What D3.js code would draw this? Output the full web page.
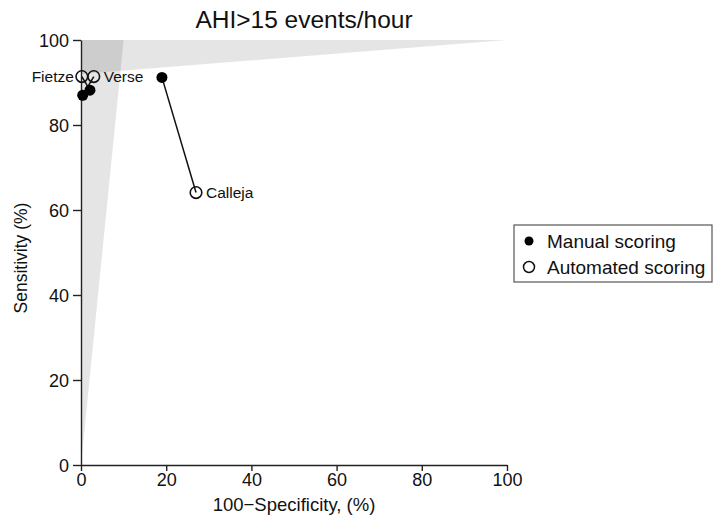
<!DOCTYPE html>
<html><head><meta charset="utf-8">
<script src="https://cdn.jsdelivr.net/npm/d3@7"></script>
<style>body{margin:0;background:#fff}svg text{font-family:"Liberation Sans",Arial,Helvetica,sans-serif}</style>
</head><body><svg id="c" width="715" height="521"></svg>
<script>
const studies = ["Fietze", "Verse", "Calleja"];
const manualFPR = [2.1, 0.4, 19];
const manualSens = [88.2, 87, 91.2];
const autoFPR = [0.2, 3.0, 27];
const autoSens = [91.4, 91.4, 64.1];
const regionA = [[0,0],[10,100],[0,100]];
const regionB = [[0,92],[100,100],[0,100]];
const xTicks = [0,20,40,60,80,100];
const yTicks = [0,20,40,60,80,100];
const legendLabels = ["Manual scoring","Automated scoring"];

const svg = d3.select("#c");
const x = d3.scaleLinear().domain([0,100]).range([81,507]);
const y = d3.scaleLinear().domain([0,100]).range([465,40]);

const poly = d3.line().x(d=>x(d[0])).y(d=>y(d[1]));
[regionA, regionB].forEach(r=>{
  svg.append("path").attr("d", poly(r)+"Z").attr("fill","#000").attr("fill-opacity",0.1);
});

// axes
const xAxis = svg.append("g").attr("transform","translate(0,465)")
  .call(d3.axisBottom(x).tickValues(xTicks).tickSize(6).tickSizeOuter(0).tickPadding(2));
const yAxis = svg.append("g").attr("transform","translate(81,0)")
  .call(d3.axisLeft(y).tickValues(yTicks).tickSize(8).tickSizeOuter(0).tickPadding(4));
[xAxis,yAxis].forEach(a=>{
  a.selectAll("text").attr("font-size",18).attr("fill","#111").style("font-family","'Liberation Sans',Arial,sans-serif");
  a.selectAll("line,path").attr("stroke","#222").attr("stroke-width",1.4);
});
yAxis.selectAll("text").attr("dy","0.35em");

// connecting lines
studies.forEach((s,i)=>{
  svg.append("line").attr("x1",x(manualFPR[i])).attr("y1",y(manualSens[i]))
    .attr("x2",x(autoFPR[i])).attr("y2",y(autoSens[i]))
    .attr("stroke","#111").attr("stroke-width",1.5);
});
// manual points
studies.forEach((s,i)=>{
  svg.append("circle").attr("cx",x(manualFPR[i])).attr("cy",y(manualSens[i])).attr("r",5.5).attr("fill","#000");
});
// automated points
studies.forEach((s,i)=>{
  svg.append("circle").attr("cx",x(autoFPR[i])).attr("cy",y(autoSens[i])).attr("r",5.8)
    .attr("fill","none").attr("stroke","#111").attr("stroke-width",1.6);
});
// labels
const labelSide = ["left","right","right"];
studies.forEach((s,i)=>{
  const left = labelSide[i]==="left";
  svg.append("text").attr("x",x(autoFPR[i]) + (left?-8:10)).attr("y",y(autoSens[i]))
    .attr("dy","0.35em").attr("text-anchor",left?"end":"start")
    .attr("font-size",15.5).attr("fill","#111").text(s);
});

// title and axis labels
svg.append("text").attr("x",304).attr("y",28).attr("text-anchor","middle").attr("font-size",24.5).attr("fill","#111").text("AHI>15 events/hour");
svg.append("text").attr("x",294).attr("y",511).attr("text-anchor","middle").attr("font-size",18.5).attr("fill","#111").text("100\u2212Specificity, (%)");
svg.append("text").attr("transform","translate(27,258) rotate(-90)").attr("text-anchor","middle").attr("font-size",17.5).attr("fill","#111").text("Sensitivity (%)");

// legend
const lg = svg.append("g");
lg.append("rect").attr("x",514).attr("y",225).attr("width",198).attr("height",57).attr("fill","#fff").attr("stroke","#555").attr("stroke-width",1.2);
legendLabels.forEach((t,i)=>{
  const cy = 241 + i*26;
  const c = lg.append("circle").attr("cx",529).attr("cy",cy).attr("r",i===0?4.5:5.5);
  if(i===0) c.attr("fill","#000"); else c.attr("fill","none").attr("stroke","#111").attr("stroke-width",1.5);
  lg.append("text").attr("x",547).attr("y",cy).attr("dy","0.35em").attr("font-size",19).attr("fill","#111").text(t);
});
</script></body></html>
